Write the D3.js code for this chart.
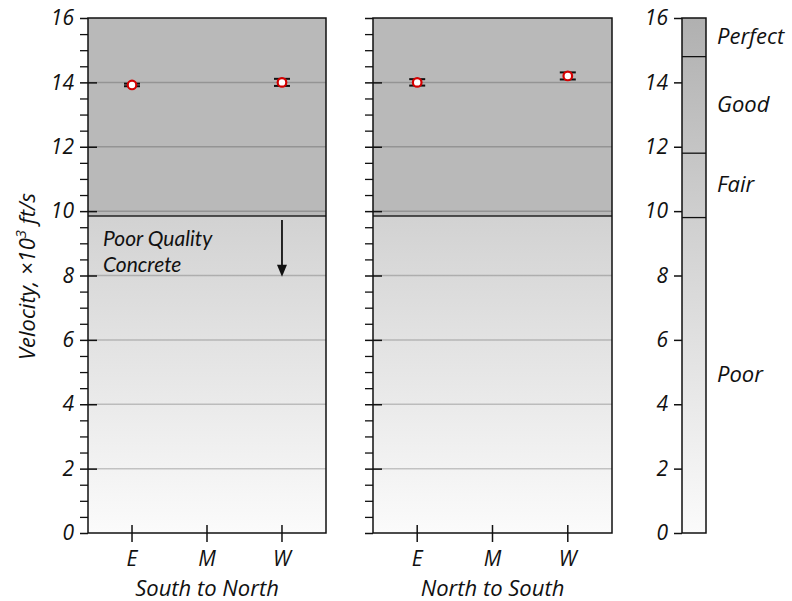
<!DOCTYPE html>
<html><head><meta charset="utf-8">
<script src="https://cdn.jsdelivr.net/npm/d3@7"></script>
<style>
body{margin:0;background:#fff;}
text{font-family:"Open Sans",sans-serif;font-style:italic;fill:#111;}
</style></head>
<body><svg id="chart" width="792" height="601"></svg>
<script>
// ---- data ----
const categories = ["E", "M", "W"];
const panelTitles = ["South to North", "North to South"];
const southNorthMean = [13.92, null, 14.0];
const southNorthErr  = [0.04, null, 0.11];
const northSouthMean = [14.0, null, 14.2];
const northSouthErr  = [0.10, null, 0.11];
const yTicks = [0, 2, 4, 6, 8, 10, 12, 14, 16];
const gridTicks = [2, 4, 6, 8, 10, 12, 14];
const qualityBounds = [0, 9.8, 11.8, 14.8, 16];
const qualityLabels = ["Poor", "Fair", "Good", "Perfect"];
const poorThreshold = 9.85;
const annotationLines = ["Poor Quality", "Concrete"];

const svg = d3.select("#chart");
const y = d3.scaleLinear().domain([0, 16]).range([533, 18]);
const minorTicks = d3.range(0, 16.001, 0.5).filter(v => v % 2 !== 0);

const defs = svg.append("defs");
const gPoor = defs.append("linearGradient").attr("id", "poorGrad")
  .attr("gradientUnits", "userSpaceOnUse").attr("x1", 0).attr("x2", 0)
  .attr("y1", y(0)).attr("y2", y(poorThreshold));
gPoor.append("stop").attr("offset", 0).attr("stop-color", "#fbfbfb");
gPoor.append("stop").attr("offset", 1).attr("stop-color", "#d2d2d2");
const gBar = defs.append("linearGradient").attr("id", "barGrad")
  .attr("gradientUnits", "userSpaceOnUse").attr("x1", 0).attr("x2", 0)
  .attr("y1", y(0)).attr("y2", y(16));
gBar.append("stop").attr("offset", 0).attr("stop-color", "#fbfbfb");
gBar.append("stop").attr("offset", 0.6).attr("stop-color", "#d0d0d0");
gBar.append("stop").attr("offset", 1).attr("stop-color", "#b0b0b0");

const panelRanges = [[88, 326], [373, 612]];
const means = [southNorthMean, northSouthMean];
const errs = [southNorthErr, northSouthErr];
const tickFont = "21px", labelFont = "22px";

panelRanges.forEach((rng, pi) => {
  const x = d3.scalePoint().domain(categories).range(rng).padding(0.587);
  const g = svg.append("g");
  // background
  g.append("rect").attr("x", rng[0]).attr("width", rng[1] - rng[0])
    .attr("y", y(16)).attr("height", y(poorThreshold) - y(16)).attr("fill", "#b9b9b9");
  g.append("rect").attr("x", rng[0]).attr("width", rng[1] - rng[0])
    .attr("y", y(poorThreshold)).attr("height", y(0) - y(poorThreshold)).attr("fill", "url(#poorGrad)");
  // grid
  g.selectAll(".grid").data(gridTicks).join("line")
    .attr("x1", rng[0]).attr("x2", rng[1]).attr("y1", d => y(d)).attr("y2", d => y(d))
    .attr("stroke", "#000").attr("stroke-opacity", 0.2).attr("stroke-width", 1.5);
  // threshold line
  g.append("line").attr("x1", rng[0]).attr("x2", rng[1])
    .attr("y1", y(poorThreshold)).attr("y2", y(poorThreshold))
    .attr("stroke", "#222").attr("stroke-width", 1.6);
  // frame
  g.append("rect").attr("x", rng[0]).attr("y", y(16)).attr("width", rng[1] - rng[0])
    .attr("height", y(0) - y(16)).attr("fill", "none").attr("stroke", "#111").attr("stroke-width", 1.5);
  // y axis major outward
  const ax = d3.axisLeft(y).tickValues(yTicks).tickSize(8).tickPadding(6)
    .tickFormat(pi === 0 ? d3.format("d") : () => "");
  const ga = g.append("g").attr("transform", `translate(${rng[0]},0)`).call(ax);
  ga.select(".domain").remove();
  ga.selectAll("line").attr("stroke", "#111").attr("stroke-width", 1.5);
  ga.selectAll("text").style("font-size", tickFont).style("font-family", "Open Sans").style("font-style", "italic").attr("fill", "#111");
  // inward major
  const ai = g.append("g").attr("transform", `translate(${rng[0]},0)`)
    .call(d3.axisRight(y).tickValues(yTicks.filter(v => v > 0 && v < 16)).tickSize(9).tickFormat(() => ""));
  ai.select(".domain").remove();
  ai.selectAll("line").attr("stroke", "#111").attr("stroke-width", 1.5);
  // minor
  const am = g.append("g").attr("transform", `translate(${rng[0]},0)`)
    .call(d3.axisLeft(y).tickValues(minorTicks).tickSize(8).tickFormat(() => ""));
  am.select(".domain").remove();
  am.selectAll("line").attr("stroke", "#111").attr("stroke-width", 1.3);
  // x ticks
  g.selectAll(".xt").data(categories).join("line")
    .attr("x1", d => x(d)).attr("x2", d => x(d)).attr("y1", y(0) - 8).attr("y2", y(0) + 9)
    .attr("stroke", "#111").attr("stroke-width", 1.5);
  g.selectAll(".xl").data(categories).join("text")
    .attr("x", d => x(d)).attr("y", 566).attr("text-anchor", "middle")
    .style("font-size", tickFont).text(d => d);
  g.append("text").attr("x", (rng[0] + rng[1]) / 2).attr("y", 596).attr("text-anchor", "middle")
    .style("font-size", labelFont).text(panelTitles[pi]);
  // data
  const pts = categories.map((c, i) => ({c, m: means[pi][i], e: errs[pi][i]})).filter(d => d.m != null);
  const eb = g.selectAll(".eb").data(pts).join("g");
  eb.append("line").attr("x1", d => x(d.c)).attr("x2", d => x(d.c))
    .attr("y1", d => y(d.m - d.e)).attr("y2", d => y(d.m + d.e)).attr("stroke", "#111").attr("stroke-width", 2);
  [-1, 1].forEach(s => {
    eb.append("line").attr("x1", d => x(d.c) - 8).attr("x2", d => x(d.c) + 8)
      .attr("y1", d => y(d.m + s * d.e)).attr("y2", d => y(d.m + s * d.e))
      .attr("stroke", "#111").attr("stroke-width", 2);
  });
  eb.append("circle").attr("cx", d => x(d.c)).attr("cy", d => y(d.m)).attr("r", 4.3)
    .attr("fill", "#fff").attr("stroke", "#d40000").attr("stroke-width", 2.2);

  if (pi === 0) {
    g.selectAll(".ann").data(annotationLines).join("text")
      .attr("x", 103).attr("y", (d, i) => 246 + i * 25.5)
      .style("font-family", "Lato").style("font-size", "21px").text(d => d);
    const ax0 = x("W");
    g.append("line").attr("x1", ax0).attr("x2", ax0).attr("y1", y(poorThreshold) + 4).attr("y2", y(8.3))
      .attr("stroke", "#111").attr("stroke-width", 1.8);
    g.append("path").attr("d", `M${ax0 - 5},${y(8.3) - 1} L${ax0 + 5},${y(8.3) - 1} L${ax0},${y(8.3) + 11} Z`)
      .attr("fill", "#111");
  }
});

// y label
const yl = svg.append("text").attr("transform", `translate(35,${(y(0)+y(16))/2 + 1}) rotate(-90)`)
  .attr("text-anchor", "middle").style("font-size", labelFont);
yl.append("tspan").text("Velocity, \u00d710");
yl.append("tspan").attr("dy", -9).style("font-size", "15px").text("3");
yl.append("tspan").attr("dy", 9).text(" ft/s");

// colorbar
const cb = svg.append("g");
const cbx = [682, 706];
cb.append("rect").attr("x", cbx[0]).attr("y", y(16)).attr("width", cbx[1] - cbx[0])
  .attr("height", y(0) - y(16)).attr("fill", "url(#barGrad)");
cb.selectAll(".sep").data(qualityBounds.slice(1, -1)).join("line")
  .attr("x1", cbx[0]).attr("x2", cbx[1]).attr("y1", d => y(d)).attr("y2", d => y(d))
  .attr("stroke", "#111").attr("stroke-width", 1.3);
cb.append("rect").attr("x", cbx[0]).attr("y", y(16)).attr("width", cbx[1] - cbx[0])
  .attr("height", y(0) - y(16)).attr("fill", "none").attr("stroke", "#111").attr("stroke-width", 1.5);
const cba = cb.append("g").attr("transform", `translate(${cbx[0]},0)`)
  .call(d3.axisLeft(y).tickValues(yTicks).tickSize(8).tickPadding(6).tickFormat(d3.format("d")));
cba.select(".domain").remove();
cba.selectAll("line").attr("stroke", "#111").attr("stroke-width", 1.5);
cba.selectAll("text").style("font-size", tickFont).style("font-family", "Open Sans").style("font-style", "italic").attr("fill", "#111");
cb.selectAll(".ql").data(qualityLabels).join("text")
  .attr("x", 717).attr("y", (d, i) => y((qualityBounds[i] + qualityBounds[i + 1]) / 2) + 7)
  .style("font-size", labelFont).text(d => d);
</script></body></html>
